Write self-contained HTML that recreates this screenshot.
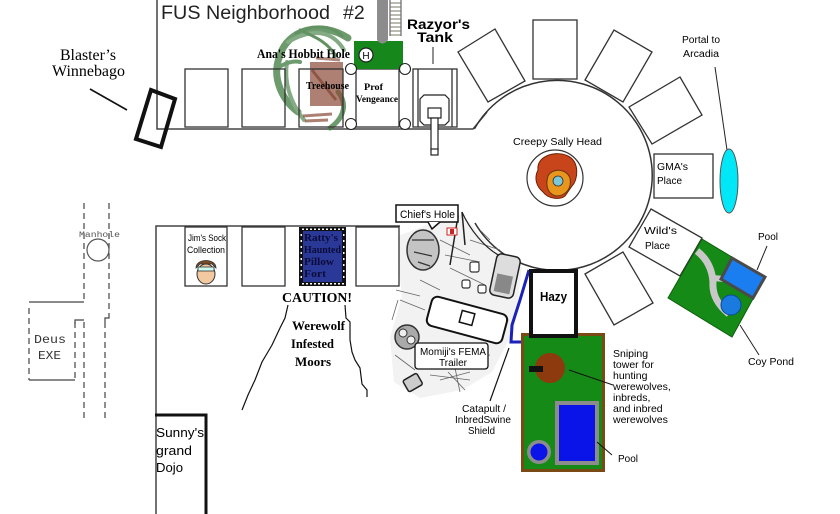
<!DOCTYPE html>
<html><head><meta charset="utf-8"><style>
html,body{margin:0;padding:0;background:#fff;}
svg{display:block;}
text{font-family:"Liberation Sans",Arial,sans-serif;}
.serif{font-family:"Liberation Serif","Times New Roman",serif;}
.mono{font-family:"Liberation Mono","Courier New",monospace;}
</style></head><body>
<svg width="840" height="514" viewBox="0 0 840 514" xmlns="http://www.w3.org/2000/svg">
<rect width="840" height="514" fill="#fff"/>

<!-- Top street frame -->
<polyline points="157,0 157,129 473,129 487,112" fill="none" stroke="#444" stroke-width="1.5"/>
<!-- Big circle (open on left) -->
<path d="M 474.4 128.9 A 95 95 0 1 1 475 223" fill="none" stroke="#333" stroke-width="1.5"/>

<!-- Bottom street frame -->
<polyline points="156,514 156,226 400,226" fill="none" stroke="#444" stroke-width="1.5"/>

<!-- Treehouse scribbles -->
<g fill="none" stroke-linecap="round" opacity="0.75">
<path d="M280,55 C288,30 320,20 348,38" stroke="#3d7a3d" stroke-width="7"/>
<path d="M288,42 C312,28 332,30 344,50" stroke="#5c8f5c" stroke-width="4"/>
<path d="M296,33 C318,22 335,28 342,36" stroke="#2e6e2e" stroke-width="3"/>
<path d="M279,58 C272,78 282,100 298,112" stroke="#3d7a3d" stroke-width="7"/>
<path d="M287,62 C284,82 290,102 304,120" stroke="#5c8f5c" stroke-width="4"/>
<path d="M276,70 C280,65 292,60 300,62" stroke="#3d7a3d" stroke-width="4"/>
<path d="M338,92 C348,104 344,118 330,128" stroke="#3d7a3d" stroke-width="5"/>
<path d="M300,30 C312,36 326,40 336,56" stroke="#2e6e2e" stroke-width="3"/>
</g>
<rect x="310" y="62" width="33" height="44" fill="#8a4a38" opacity="0.7"/>
<path d="M316,58 L340,60 M312,70 L336,100" stroke="#7a3a28" stroke-width="3" opacity="0.6"/>
<path d="M303,116 L332,114 M305,121 L328,120" stroke="#8a4a38" stroke-width="3" opacity="0.7"/>

<!-- Top houses -->
<g fill="none" stroke="#333" stroke-width="1.3">
<rect x="185" y="69" width="43" height="58"/>
<rect x="242" y="69" width="43" height="58"/>
<rect x="299" y="69" width="44" height="58"/>
<rect x="356" y="69" width="43" height="58" fill="#fff"/>
<rect x="413" y="69" width="44" height="58"/>
<line x1="418" y1="69" x2="418" y2="127"/>
<line x1="452" y1="69" x2="452" y2="127"/>
</g>

<!-- Prof Vengeance green pad, tower, railroad -->
<rect x="354" y="41" width="49" height="28" fill="#16871a"/>
<path d="M377,0 L388,0 L388,40 Q382.5,47 377,40 Z" fill="#8c8c8c"/>
<g stroke="#444" stroke-width="1">
<line x1="390" y1="0" x2="390" y2="36"/>
<line x1="401" y1="0" x2="401" y2="36"/>
<path d="M390,3H401M390,7H401M390,11H401M390,15H401M390,19H401M390,23H401M390,27H401M390,31H401M390,35H401" stroke="#776" />
</g>
<circle cx="366" cy="55" r="7" fill="#fff" stroke="#222" stroke-width="1.2"/>
<text x="366" y="59" font-size="10" text-anchor="middle">H</text>
<g fill="#fff" stroke="#222" stroke-width="1.1">
<circle cx="351" cy="69" r="5.5"/><circle cx="405" cy="69" r="5.5"/>
<circle cx="351" cy="124" r="5.5"/><circle cx="405" cy="124" r="5.5"/>
</g>

<!-- Tank -->
<path d="M424,95 H445 L449,99 V121 L445,125 H424 L420,121 V99 Z" fill="#fff" stroke="#222" stroke-width="1.2"/>
<rect x="428" y="108" width="13" height="10" fill="#fff" stroke="#222" stroke-width="1.2"/>
<rect x="431" y="118" width="7" height="32" fill="#fff" stroke="#222" stroke-width="1.2"/>
<rect x="431" y="149" width="7" height="6" fill="#fff" stroke="#222" stroke-width="1.2"/>
<line x1="433" y1="47" x2="433" y2="64" stroke="#222" stroke-width="1"/>

<!-- Titles -->
<text x="161" y="19" font-size="19.5" fill="#222" textLength="169" lengthAdjust="spacingAndGlyphs">FUS Neighborhood</text>
<text x="343" y="19" font-size="19.5" fill="#222">#2</text>
<text x="407" y="29" font-size="13.5" font-weight="bold" textLength="63" lengthAdjust="spacingAndGlyphs">Razyor's</text>
<text x="417" y="42" font-size="13.5" font-weight="bold" textLength="36" lengthAdjust="spacingAndGlyphs">Tank</text>
<text x="257" y="58" class="serif" font-size="12.5" font-weight="bold" textLength="93" lengthAdjust="spacingAndGlyphs">Ana's Hobbit Hole</text>
<text x="306" y="89" class="serif" font-size="10" font-weight="bold" textLength="43" lengthAdjust="spacingAndGlyphs">Treehouse</text>
<text x="364" y="90" class="serif" font-size="9.5" font-weight="bold" textLength="19" lengthAdjust="spacingAndGlyphs">Prof</text>
<text x="356" y="102" class="serif" font-size="9.5" font-weight="bold" textLength="42" lengthAdjust="spacingAndGlyphs">Vengeance</text>

<!-- Blaster's Winnebago -->
<text x="60" y="60" class="serif" font-size="16" textLength="56" lengthAdjust="spacingAndGlyphs">Blaster’s</text>
<text x="52" y="76" class="serif" font-size="16" textLength="73" lengthAdjust="spacingAndGlyphs">Winnebago</text>
<line x1="90" y1="89" x2="127" y2="110" stroke="#111" stroke-width="1.6"/>
<polygon points="151,90 175,99 161,147 136,139" fill="none" stroke="#111" stroke-width="4"/>

<!-- Ring houses -->
<g fill="#fff" stroke="#333" stroke-width="1.3">
<polygon points="458,52 495,29 525,81 488,102"/>
<rect x="533" y="20" width="44" height="59"/>
<polygon points="585,80 614,30 652,52 623,102"/>
<polygon points="629,107 680,77 702,115 652,144"/>
<rect x="654" y="154" width="59" height="44"/>
<polygon points="651,209 702,238 680,276 629,247"/>
<polygon points="585,274 623,252 653,303 614,325"/>
</g>
<text x="657" y="170" font-size="10.5" textLength="31" lengthAdjust="spacingAndGlyphs">GMA's</text>
<text x="657" y="184" font-size="10.5" textLength="25" lengthAdjust="spacingAndGlyphs">Place</text>
<text x="644" y="234" font-size="10.5" textLength="33" lengthAdjust="spacingAndGlyphs">Wild's</text>
<text x="645" y="249" font-size="10.5" textLength="25" lengthAdjust="spacingAndGlyphs">Place</text>

<!-- Sally head -->
<text x="513" y="145" font-size="10.5" textLength="89" lengthAdjust="spacingAndGlyphs">Creepy Sally Head</text>
<circle cx="555" cy="178" r="28" fill="#fff" stroke="#333" stroke-width="1.2"/>
<path d="M538,170 C536,156 556,150 568,156 C580,162 578,180 572,186 L565,196 C560,200 548,199 543,192 C536,186 534,178 538,170 Z" fill="#c8441a" stroke="#6a2208" stroke-width="1"/>
<path d="M548,176 C552,168 566,168 570,178 C572,188 566,196 556,196 C548,194 545,186 548,176 Z" fill="#e8961e" stroke="#6a3408" stroke-width="1"/>
<circle cx="558" cy="181" r="5" fill="#7cc8d8" stroke="#333" stroke-width="0.8"/>

<!-- Portal -->
<text x="682" y="43" font-size="10" textLength="38" lengthAdjust="spacingAndGlyphs">Portal to</text>
<text x="683" y="57" font-size="10" textLength="36" lengthAdjust="spacingAndGlyphs">Arcadia</text>
<line x1="715" y1="67" x2="727" y2="150" stroke="#222" stroke-width="1"/>
<ellipse cx="729" cy="181" rx="9" ry="32" fill="#00e8f8" stroke="#555" stroke-width="1"/>

<!-- Right park -->
<polygon points="702,239 765,277 732,337 668,298" fill="#168a16" stroke="#0e5e0e" stroke-width="1"/>
<path d="M697,251 C706,258 712,268 713,282 C712,295 718,305 729,314" fill="none" stroke="#c8c8c8" stroke-width="7"/>
<path d="M713,278 L724,279" stroke="#c8c8c8" stroke-width="6"/>
<polygon points="732,258 765,277 753,298 721,279" fill="#1a7ef0" stroke="#4a4a4a" stroke-width="3"/>
<circle cx="731" cy="305" r="10" fill="#1a7ae0" stroke="#0a4a9a" stroke-width="1"/>
<text x="758" y="240" font-size="10.5" textLength="20" lengthAdjust="spacingAndGlyphs">Pool</text>
<line x1="767" y1="246" x2="757" y2="270" stroke="#222" stroke-width="1"/>
<text x="748" y="365" font-size="10.5" textLength="46" lengthAdjust="spacingAndGlyphs">Coy Pond</text>
<line x1="759" y1="355" x2="740" y2="325" stroke="#222" stroke-width="1"/>

<!-- Sketch area (Chief's hole / trailer) -->
<polygon points="398,236 430,224 462,214 492,248 522,268 514,330 492,372 462,390 420,398 394,382 390,338 402,296 398,262" fill="#efefef" opacity="0.8"/>
<g stroke="#666" stroke-width="0.8" fill="none">
<path d="M440,240 L470,255 M445,255 L480,262 M450,268 L485,285 M420,280 L440,290 M400,300 L425,310 M395,355 L415,370 M430,375 L470,380 M455,360 L490,355 M470,240 L500,250"/>
<path d="M448,372 L465,390 M440,380 L470,372 M455,368 L460,392 M398,300 L392,320 M396,290 L420,296 M480,230 L490,240"/>
</g>
<path d="M462,212 C470,230 485,248 500,256" fill="none" stroke="#222" stroke-width="1.2"/>
<path d="M462,212 L465,245 M458,216 L450,265" stroke="#222" stroke-width="1.5"/>
<ellipse cx="423" cy="250" rx="16" ry="20" fill="#c4c4c4" stroke="#333" stroke-width="1.5"/>
<path d="M412,240 L434,240 M414,252 L432,256 M418,262 L430,266" stroke="#333" stroke-width="1.2"/>
<rect x="447" y="228" width="10" height="7" fill="#fff" stroke="#c22" stroke-width="1"/>
<rect x="450" y="229" width="4" height="5" fill="#c22"/>
<g transform="rotate(12 505 276)"><rect x="493" y="255" width="24" height="42" rx="5" fill="#ddd" stroke="#222" stroke-width="1.5"/><rect x="497" y="275" width="16" height="18" fill="#888"/></g>
<g stroke="#333" stroke-width="1.2" fill="#fff">
<rect x="470" y="262" width="9" height="10" rx="2"/><rect x="462" y="280" width="8" height="8" rx="2"/><rect x="478" y="285" width="8" height="8" rx="2"/>
</g>
<g transform="rotate(15 467 320)"><rect x="428" y="305" width="78" height="30" rx="6" fill="#fff" stroke="#111" stroke-width="2"/><rect x="460" y="312" width="13" height="12" fill="#fff" stroke="#111" stroke-width="1.5"/></g>
<circle cx="407" cy="337" r="12" fill="#aaa" stroke="#333" stroke-width="1.5"/>
<circle cx="403" cy="333" r="4" fill="#eee" stroke="#333"/><circle cx="411" cy="340" r="4" fill="#eee" stroke="#333"/>
<g transform="rotate(-30 413 383)"><rect x="405" y="376" width="16" height="13" rx="2" fill="#ccc" stroke="#222" stroke-width="1.5"/></g>

<!-- Chief's hole label -->
<rect x="396" y="205" width="62" height="17" fill="#fff" stroke="#111" stroke-width="1.5"/>
<path d="M428,222 L432,229 L440,222" fill="#fff" stroke="#111" stroke-width="1.5"/>
<text x="400" y="218" font-size="11" textLength="55" lengthAdjust="spacingAndGlyphs">Chief's Hole</text>

<!-- Momiji label -->
<rect x="415" y="343" width="73" height="26" rx="3" fill="#fff" stroke="#111" stroke-width="1.3"/>
<text x="420" y="355" font-size="10.5" textLength="66" lengthAdjust="spacingAndGlyphs">Momiji's FEMA</text>
<text x="439" y="366" font-size="10.5" textLength="28" lengthAdjust="spacingAndGlyphs">Trailer</text>

<!-- Catapult shield -->
<polyline points="529,270 520,300 512,325 511,342 522,342" fill="none" stroke="#1a22b8" stroke-width="3"/>
<line x1="509" y1="348" x2="490" y2="401" stroke="#111" stroke-width="1.2"/>
<text x="462" y="412" font-size="10.5" textLength="44" lengthAdjust="spacingAndGlyphs">Catapult /</text>
<text x="455" y="423" font-size="10.5" textLength="56" lengthAdjust="spacingAndGlyphs">InbredSwine</text>
<text x="468" y="434" font-size="10.5" textLength="27" lengthAdjust="spacingAndGlyphs">Shield</text>

<!-- Bottom green plot -->
<rect x="521" y="333" width="84" height="139" fill="#7a4a14"/>
<rect x="524" y="336" width="78" height="133" fill="#168a16"/>
<circle cx="550" cy="368" r="15" fill="#8c3a0e"/>
<rect x="529" y="366" width="14" height="6" fill="#111"/>
<rect x="555" y="401" width="44" height="64" fill="#8c8c8c"/>
<rect x="559" y="405" width="36" height="56" fill="#0a14e8"/>
<circle cx="539" cy="452" r="12" fill="#8c8c8c"/>
<circle cx="539" cy="452" r="8.5" fill="#0a14e8"/>
<line x1="569" y1="370" x2="613" y2="385" stroke="#111" stroke-width="1"/>
<line x1="597" y1="442" x2="612" y2="455" stroke="#111" stroke-width="1"/>
<g font-size="10.5">
<text x="613" y="357">Sniping</text>
<text x="613" y="368">tower for</text>
<text x="613" y="379">hunting</text>
<text x="613" y="390">werewolves,</text>
<text x="613" y="401">inbreds,</text>
<text x="613" y="412">and inbred</text>
<text x="613" y="423">werewolves</text>
</g>
<text x="618" y="462" font-size="10.5" textLength="20" lengthAdjust="spacingAndGlyphs">Pool</text>

<!-- Hazy -->
<rect x="531" y="271" width="45" height="65" fill="#fff" stroke="#111" stroke-width="4"/>
<text x="540" y="301" font-size="12.5" font-weight="bold" textLength="27" lengthAdjust="spacingAndGlyphs">Hazy</text>

<!-- Bottom houses -->
<g fill="none" stroke="#333" stroke-width="1.3">
<rect x="185" y="227" width="42" height="59"/>
<rect x="242" y="227" width="43" height="59"/>
<rect x="356" y="227" width="43" height="59"/>
</g>
<text x="188" y="241" font-size="9.5" textLength="38" lengthAdjust="spacingAndGlyphs">Jim's Sock</text>
<text x="187" y="253" font-size="9.5" textLength="38" lengthAdjust="spacingAndGlyphs">Collection</text>
<!-- Jim face -->
<ellipse cx="206" cy="274" rx="9" ry="10" fill="#f2c9a0" stroke="#333" stroke-width="1"/>
<path d="M196,268 C196,258 216,258 216,268 L212,264 L200,264 Z" fill="#7a4a22" stroke="#333" stroke-width="0.8"/>
<rect x="198" y="267" width="16" height="4" fill="#cfe" stroke="#333" stroke-width="0.8"/>
<!-- Ratty -->
<rect x="299" y="227" width="47" height="59" fill="#111"/>
<rect x="303" y="231" width="39" height="51" fill="#2a3898"/>
<g fill="#fff">
<path d="M302,228.5h2v1.5h-2zM306,228.5h2v1.5h-2zM310,228.5h2v1.5h-2zM314,228.5h2v1.5h-2zM318,228.5h2v1.5h-2zM322,228.5h2v1.5h-2zM326,228.5h2v1.5h-2zM330,228.5h2v1.5h-2zM334,228.5h2v1.5h-2zM338,228.5h2v1.5h-2zM342,228.5h2v1.5h-2z"/>
<path d="M302,283h2v1.5h-2zM306,283h2v1.5h-2zM310,283h2v1.5h-2zM314,283h2v1.5h-2zM318,283h2v1.5h-2zM322,283h2v1.5h-2zM326,283h2v1.5h-2zM330,283h2v1.5h-2zM334,283h2v1.5h-2zM338,283h2v1.5h-2zM342,283h2v1.5h-2z"/>
<path d="M300.5,234h1.5v2h-1.5zM300.5,240h1.5v2h-1.5zM300.5,246h1.5v2h-1.5zM300.5,252h1.5v2h-1.5zM300.5,258h1.5v2h-1.5zM300.5,264h1.5v2h-1.5zM300.5,270h1.5v2h-1.5zM300.5,276h1.5v2h-1.5z"/>
<path d="M343,234h1.5v2h-1.5zM343,240h1.5v2h-1.5zM343,246h1.5v2h-1.5zM343,252h1.5v2h-1.5zM343,258h1.5v2h-1.5zM343,264h1.5v2h-1.5zM343,270h1.5v2h-1.5zM343,276h1.5v2h-1.5z"/>
</g>
<g class="serif" font-size="11" font-weight="bold" fill="#0c0c3a">
<text x="304" y="241" class="serif" textLength="34" lengthAdjust="spacingAndGlyphs">Ratty's</text>
<text x="304" y="253" class="serif" textLength="37" lengthAdjust="spacingAndGlyphs">Haunted</text>
<text x="304" y="265" class="serif" textLength="30" lengthAdjust="spacingAndGlyphs">Pillow</text>
<text x="304" y="277" class="serif" textLength="22" lengthAdjust="spacingAndGlyphs">Fort</text>
</g>

<!-- Caution / moors -->
<text x="282" y="302" class="serif" font-size="14" font-weight="bold" textLength="70" lengthAdjust="spacingAndGlyphs">CAUTION!</text>
<text x="292" y="330" class="serif" font-size="12.5" font-weight="bold" textLength="53" lengthAdjust="spacingAndGlyphs">Werewolf</text>
<text x="291" y="348" class="serif" font-size="12.5" font-weight="bold" textLength="43" lengthAdjust="spacingAndGlyphs">Infested</text>
<text x="295" y="366" class="serif" font-size="12.5" font-weight="bold" textLength="36" lengthAdjust="spacingAndGlyphs">Moors</text>
<path d="M288,305 L285,318 L280,328 L272,345 L262,362 L255,380 L248,395 L242,410" fill="none" stroke="#111" stroke-width="1.2"/>
<path d="M345,305 L346,318 L350,322 L350,340 L352,352 L355,360 L360,368 L362,384 L367,390 L367,397" fill="none" stroke="#111" stroke-width="1.2"/>

<!-- Left street dashed -->
<g stroke="#444" stroke-width="1.2" stroke-dasharray="6,4" fill="none">
<line x1="84" y1="203" x2="84" y2="302"/>
<line x1="109" y1="203" x2="109" y2="316"/>
<line x1="84" y1="322" x2="84" y2="422"/>
<line x1="105" y1="322" x2="105" y2="422"/>
<line x1="29" y1="308" x2="29" y2="380"/>
<line x1="75" y1="322" x2="75" y2="380"/>
</g>
<g stroke="#444" stroke-width="1.2" fill="none">
<line x1="29" y1="302" x2="84" y2="302"/>
<polyline points="109,316 109,318 105,318 105,322"/>
<polyline points="75,324 75,320 84,320"/>
<line x1="29" y1="380" x2="75" y2="380"/>
</g>
<circle cx="98" cy="250" r="11" fill="#fff" stroke="#555" stroke-width="1.2"/>
<text x="79" y="237" class="mono" font-size="8.5" fill="#555" textLength="41" lengthAdjust="spacingAndGlyphs">Manhole</text>
<text x="34" y="343" class="mono" font-size="12" fill="#333" textLength="32" lengthAdjust="spacingAndGlyphs">Deus</text>
<text x="38" y="359" class="mono" font-size="12" fill="#333" textLength="23" lengthAdjust="spacingAndGlyphs">EXE</text>

<!-- Sunny's Dojo -->
<polyline points="155,415 206,415 206,514" fill="none" stroke="#111" stroke-width="3"/>
<text x="156" y="437" font-size="13" textLength="48" lengthAdjust="spacingAndGlyphs">Sunny's</text>
<text x="156" y="455" font-size="13" textLength="36" lengthAdjust="spacingAndGlyphs">grand</text>
<text x="156" y="472" font-size="13" textLength="27" lengthAdjust="spacingAndGlyphs">Dojo</text>
</svg>
</body></html>
